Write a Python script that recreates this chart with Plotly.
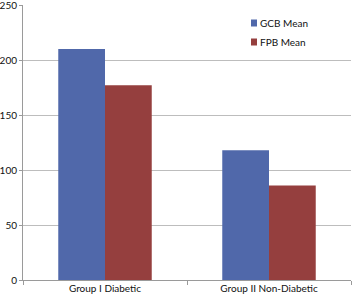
import plotly.graph_objects as go

categories = ["Group I Diabetic", "Group II Non-Diabetic"]
series_names = ["GCB Mean", "FPB Mean"]
gcb_mean = [210, 118]
fpb_mean = [177, 86]
colors = ["#5068AA", "#953F3E"]

font = "Lato, Liberation Sans, Arial, sans-serif"
fs = 10

fig = go.Figure()
for name, vals, col in zip(series_names, [gcb_mean, fpb_mean], colors):
    fig.add_trace(go.Bar(x=categories, y=vals, name=name, marker_color=col,
                         marker_line_width=0, showlegend=False))

# custom compact legend (square + text)
for i, (name, col) in enumerate(zip(series_names, colors)):
    ypos = 23 + i * 19
    fig.add_shape(type="rect", xref="paper", yref="paper",
                  x0=(251 - 23) / 328, x1=(257 - 23) / 328,
                  y0=(280 - ypos - 3.5) / 275, y1=(280 - ypos + 3.5) / 275,
                  fillcolor=col, line_width=0)
    fig.add_annotation(xref="paper", yref="paper", x=(258 - 23) / 328, y=(280 - ypos) / 275,
                       text=name, showarrow=False, xanchor="left", yanchor="middle",
                       font=dict(size=fs, family=font, color="#111"))

fig.update_layout(
    width=353, height=301,
    margin=dict(l=23, r=2, t=5, b=21),
    paper_bgcolor="white", plot_bgcolor="white",
    barmode="group", bargap=0.43, bargroupgap=0,
    font=dict(family=font, size=fs, color="#111"),
)
fig.update_yaxes(range=[0, 250], dtick=50, showgrid=True, gridcolor="#BDBDBD", gridwidth=1,
                 showline=True, linecolor="#9A9A9A", ticks="outside", ticklen=3, tickcolor="#9A9A9A",
                 zeroline=False, automargin=False, ticklabelstandoff=0,
                 ticklabeloverflow="allow", tickfont=dict(size=fs))
fig.update_xaxes(showline=True, linecolor="#9A9A9A", ticks="outside", tickson="boundaries",
                 ticklen=4, tickcolor="#9A9A9A", automargin=False, ticklabelstandoff=-1,
                 ticklabeloverflow="allow", tickfont=dict(size=fs))

fig.write_html("out.html", post_script="document.body.style.margin='0';",
               config={"displayModeBar": False})
